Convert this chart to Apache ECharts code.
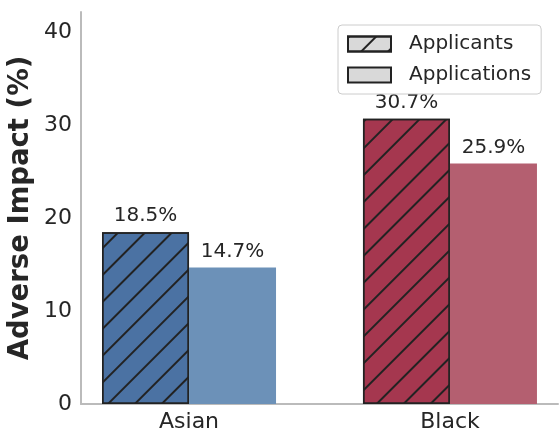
<!DOCTYPE html>
<html>
<head>
    <meta charset="utf-8">
    <script src="https://cdn.jsdelivr.net/npm/echarts@6/dist/echarts.min.js"></script>
    <style>
        body{
            margin:0;
            padding:0;
        }
    </style>
</head>
<body>
<div id="main" style="width:560px;height:440px;"></div>
<script type="text/javascript">
var myChart = echarts.init(document.getElementById('main'));

// categories sit at x = 0, 1 on a value axis so the bars can be placed like matplotlib does
let categories = ['Asian', 'Black'];
let applicants = [18.5, 30.7];
let applications = [14.7, 25.9];
let applicantColors = ['#4b72a3', '#a5374f'];
let applicationColors = ['#6c91b8', '#b45f70'];
let yTicks = [0, 10, 20, 30, 40];

let font = 'DejaVu Sans';
let hatch = {
  symbol: 'rect',
  symbolSize: 1,
  dashArrayX: [1, 0],
  dashArrayY: [1.4, 16.6],
  rotation: -Math.PI / 4,
  color: '#222'
};

function toData(vals, colors, withBorder) {
  return vals.map(function (v, i) {
    let style = { color: colors[i] };
    style.borderColor = '#222';
    style.borderWidth = withBorder ? 1.5 : 0;
    return { value: [i, v], itemStyle: style };
  });
}

let labelStyle = {
  show: true,
  position: 'top',
  distance: 6,
  fontFamily: font,
  fontSize: 20,
  color: '#262626',
  formatter: function (p) {
    return p.value[1].toFixed(1) + '%';
  }
};

option = {
  animation: false,
  textStyle: { fontFamily: font },
  grid: {
    left: 81,
    right: 2,
    top: 12,
    bottom: 36,
    outerBoundsMode: 'none'
  },
  legend: {
    orient: 'vertical',
    left: 338,
    top: 25,
    padding: [9, 10, 9, 9],
    itemWidth: 43,
    itemHeight: 15,
    itemGap: 11,
    icon: 'rect',
    backgroundColor: '#fff',
    borderColor: '#cccccc',
    borderWidth: 1,
    borderRadius: 4,
    textStyle: {
      fontFamily: font,
      fontSize: 20,
      color: '#262626',
      padding: [0, 0, 0, 13]
    },
    data: ['Applicants', 'Applications']
  },
  xAxis: {
    type: 'value',
    min: -0.414,
    max: 1.414,
    splitLine: { show: false },
    axisTick: { show: false },
    axisLine: { show: true, onZero: false, lineStyle: { color: '#bbbbbb', width: 2 } },
    axisLabel: {
      customValues: [0, 1],
      formatter: function (v) {
        return categories[Math.round(v)];
      },
      fontFamily: font,
      fontSize: 22,
      color: '#262626',
      margin: 7
    }
  },
  yAxis: {
    type: 'value',
    min: 0,
    max: 42.2,
    name: 'Adverse Impact (%)',
    nameLocation: 'middle',
    nameGap: 46,
    nameMoveOverlap: false,
    nameTextStyle: {
      fontFamily: font,
      fontWeight: 'bold',
      fontSize: 27.5,
      color: '#262626'
    },
    splitLine: { show: false },
    axisTick: { show: false },
    axisLine: { show: true, onZero: false, lineStyle: { color: '#bbbbbb', width: 2 } },
    axisLabel: {
      customValues: yTicks,
      fontFamily: font,
      fontSize: 22,
      color: '#262626',
      margin: 9
    }
  },
  series: [
    {
      name: 'Applicants',
      type: 'bar',
      barWidth: 87,
      barGap: '0%',
      itemStyle: {
        color: '#d9d9d9',
        borderColor: '#222',
        borderWidth: 1.5,
        decal: hatch
      },
      label: labelStyle,
      data: toData(applicants, applicantColors, true)
    },
    {
      name: 'Applications',
      type: 'bar',
      barWidth: 87,
      barGap: '0%',
      itemStyle: {
        color: '#d9d9d9',
        borderColor: '#222',
        borderWidth: 1.5
      },
      label: labelStyle,
      data: toData(applications, applicationColors, false)
    }
  ]
};

myChart.setOption(option);
</script>
</body>
</html>
